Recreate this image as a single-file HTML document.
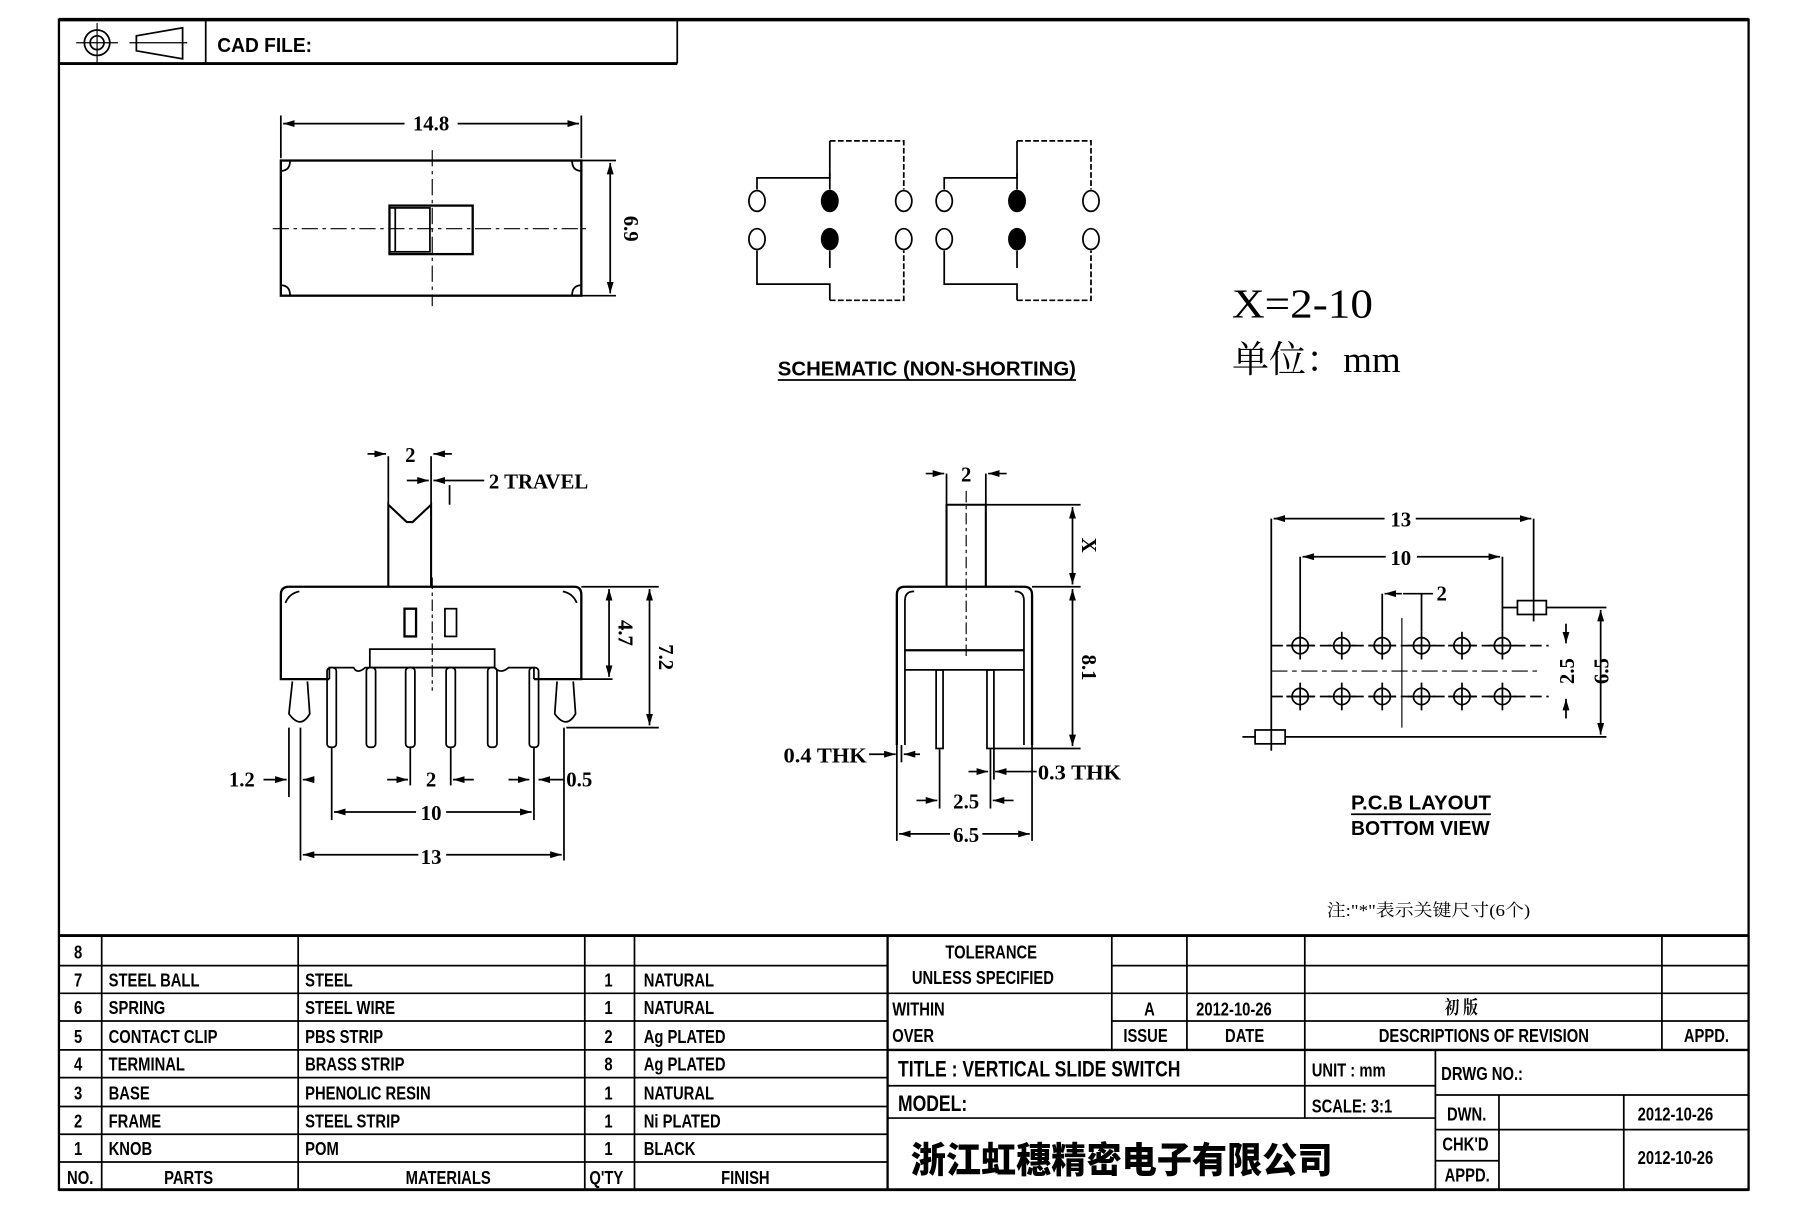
<!DOCTYPE html>
<html><head><meta charset="utf-8"><style>
html,body{margin:0;padding:0;background:#fff;}
svg{display:block}
text{font-family:"Liberation Sans Narrow","Liberation Sans",sans-serif;font-weight:bold;fill:#000}
.s{font-family:"Liberation Serif",serif;font-weight:bold}
.t text{transform-box:fill-box;transform-origin:0 0;transform:scaleX(.8)}
.t text.c{transform-origin:50% 0}
</style></head><body>
<svg width="1811" height="1207" viewBox="0 0 1567 1045" preserveAspectRatio="none" xmlns="http://www.w3.org/2000/svg">
<defs>
<marker id="a" viewBox="0 0 10 6" refX="10" refY="3" markerWidth="10" markerHeight="6" orient="auto-start-reverse" markerUnits="userSpaceOnUse"><path d="M0,0L10,3L0,6z" fill="#000"/></marker>
</defs>
<rect width="1567" height="1045" fill="#fff"/>
<g stroke="#000" fill="none">
<rect x="51" y="17" width="1462" height="1013" stroke-width="2"/>
<line x1="51" y1="17" x2="1513" y2="17" stroke-width="3"/>
<line x1="51" y1="55" x2="586" y2="55" stroke-width="2.5"/>
<line x1="586" y1="17" x2="586" y2="55" stroke-width="1.5"/>
<line x1="178" y1="17" x2="178" y2="55" stroke-width="1.5"/>
<circle cx="84" cy="37" r="11" stroke-width="1.5"/><circle cx="84" cy="37" r="6" stroke-width="1.5"/>
<line x1="66" y1="37" x2="102" y2="37"/><line x1="84" y1="20" x2="84" y2="55"/>
<path d="M118,31 L158,24 L158,51 L118,44 Z" stroke-width="1.5"/>
<line x1="112" y1="37" x2="162" y2="37"/>
<g stroke-width="1.5">
<line x1="51" y1="810" x2="1513" y2="810" stroke-width="2.5"/>
<line x1="51" y1="836" x2="768" y2="836"/><line x1="51" y1="860" x2="768" y2="860"/>
<line x1="51" y1="884" x2="768" y2="884"/><line x1="51" y1="909" x2="768" y2="909"/>
<line x1="51" y1="933" x2="768" y2="933"/><line x1="51" y1="958" x2="768" y2="958"/>
<line x1="51" y1="982" x2="768" y2="982"/><line x1="51" y1="1006" x2="768" y2="1006"/>
<line x1="88" y1="810" x2="88" y2="1030"/><line x1="258" y1="810" x2="258" y2="1030"/>
<line x1="506" y1="810" x2="506" y2="1030"/><line x1="549" y1="810" x2="549" y2="1030"/>
<line x1="768" y1="810" x2="768" y2="1030" stroke-width="2"/>
<line x1="962" y1="810" x2="962" y2="909"/><line x1="1027" y1="810" x2="1027" y2="909"/>
<line x1="1129" y1="810" x2="1129" y2="968"/><line x1="1438" y1="810" x2="1438" y2="909"/>
<line x1="962" y1="836" x2="1513" y2="836"/><line x1="768" y1="860" x2="1513" y2="860"/>
<line x1="962" y1="884" x2="1513" y2="884"/>
<line x1="768" y1="909" x2="1513" y2="909" stroke-width="2"/>
<line x1="768" y1="940" x2="1242" y2="940"/><line x1="768" y1="968" x2="1242" y2="968"/>
<line x1="1242" y1="909" x2="1242" y2="1030"/>
<line x1="1242" y1="948" x2="1513" y2="948"/><line x1="1242" y1="978" x2="1513" y2="978"/>
<line x1="1242" y1="1005" x2="1297" y2="1005"/>
<line x1="1297" y1="948" x2="1297" y2="1030"/><line x1="1405" y1="948" x2="1405" y2="1030"/>
<line x1="51" y1="1030" x2="1513" y2="1030" stroke-width="2.5"/>
</g>

<g stroke-width="1.5">
<rect x="243" y="139" width="260" height="117" stroke-width="2"/>
<line x1="503" y1="139" x2="533" y2="139"/><line x1="503" y1="256" x2="533" y2="256"/>
<line x1="528" y1="141" x2="528" y2="254" marker-start="url(#a)" marker-end="url(#a)"/>
<line x1="243" y1="100" x2="243" y2="137"/><line x1="503" y1="100" x2="503" y2="137"/>
<line x1="245" y1="107" x2="350" y2="107" marker-start="url(#a)"/><line x1="396" y1="107" x2="501" y2="107" marker-end="url(#a)"/>
<rect x="337" y="178" width="72" height="42" stroke-width="2"/><rect x="337" y="180" width="35" height="38"/><line x1="342" y1="180" x2="342" y2="218"/>
<line x1="374" y1="130" x2="374" y2="265" stroke-dasharray="14,4,3,4" stroke-width="1"/>
<line x1="236" y1="198" x2="510" y2="198" stroke-dasharray="14,4,3,4" stroke-width="1"/>
<path d="M243,148 q8,0 8,-9 M503,148 q-8,0 -8,-9 M243,247 q8,0 8,9 M503,247 q-8,0 -8,9"/>
</g>

<g stroke-width="1.5">
<ellipse cx="655" cy="174" rx="7" ry="9"/><ellipse cx="718" cy="174" rx="7" ry="9" fill="#000"/><ellipse cx="782" cy="174" rx="7" ry="9"/>
<ellipse cx="655" cy="207" rx="7" ry="9"/><ellipse cx="718" cy="207" rx="7" ry="9" fill="#000"/><ellipse cx="782" cy="207" rx="7" ry="9"/>
<ellipse cx="817" cy="174" rx="7" ry="9"/><ellipse cx="880" cy="174" rx="7" ry="9" fill="#000"/><ellipse cx="944" cy="174" rx="7" ry="9"/>
<ellipse cx="817" cy="207" rx="7" ry="9"/><ellipse cx="880" cy="207" rx="7" ry="9" fill="#000"/><ellipse cx="944" cy="207" rx="7" ry="9"/>
<g id="sc">
<path d="M655,164 V154 H718 V122"/><path d="M718,122 H782 V164" stroke-dasharray="5,2"/>
<line x1="718" y1="150" x2="718" y2="164"/>
<path d="M655,217 V246 H718 V260"/><path d="M718,260 H782 V217" stroke-dasharray="5,2"/>
<line x1="718" y1="232" x2="718" y2="217"/>
</g>
<use href="#sc" transform="translate(162,0)"/>
</g>

<g stroke-width="1.5">
<path d="M336,508 V437 L352,452 L357,452 L373,437 V508" stroke-width="1.8"/>
<line x1="336" y1="395" x2="336" y2="437"/><line x1="373" y1="395" x2="373" y2="437"/>
<line x1="318" y1="393" x2="334" y2="393" marker-end="url(#a)"/><line x1="391" y1="393" x2="375" y2="393" marker-end="url(#a)"/>
<line x1="389" y1="420" x2="389" y2="437"/>
<line x1="352" y1="416" x2="371" y2="416" marker-end="url(#a)"/><line x1="419" y1="416" x2="375" y2="416" marker-end="url(#a)"/>
<path d="M250,508 H497 Q503,508 503,515 V588 H462" stroke-width="2"/>
<path d="M250,508 Q243,508 243,515 V588 H285" stroke-width="2"/>
<path d="M247,522 q3,-8 12,-10 M499,522 q-3,-8 -12,-10"/>
<rect x="350" y="527" width="10" height="24" stroke-width="2"/><rect x="385" y="527" width="10" height="24"/>
<rect x="320" y="562" width="108" height="16"/>
<path d="M285,588 V578 H306 q3,6 10,0 H428 q5,6 12,0 H462 V588"/>
<g>
<rect x="283" y="578" width="8" height="69" rx="3"/><rect x="317" y="578" width="8" height="69" rx="3"/>
<rect x="351" y="578" width="8" height="69" rx="3"/><rect x="386" y="578" width="8" height="69" rx="3"/>
<rect x="422" y="578" width="8" height="69" rx="3"/><rect x="458" y="578" width="8" height="69" rx="3"/>
</g>
<path d="M253,590 L250,618 Q260,632 268,618 L266,590"/>
<path d="M482,590 L480,618 Q490,632 498,618 L496,590"/>
<line x1="374" y1="500" x2="374" y2="598" stroke-dasharray="10,3,3,3" stroke-width="1"/>
<line x1="503" y1="508" x2="570" y2="508"/><line x1="503" y1="588" x2="530" y2="588"/><line x1="490" y1="630" x2="570" y2="630"/>
<line x1="527" y1="510" x2="527" y2="586" marker-start="url(#a)" marker-end="url(#a)"/>
<line x1="562" y1="510" x2="562" y2="628" marker-start="url(#a)" marker-end="url(#a)"/>
<line x1="250" y1="630" x2="250" y2="690"/><line x1="260" y1="630" x2="260" y2="745"/>
<line x1="287" y1="647" x2="287" y2="710"/><line x1="462" y1="647" x2="462" y2="710"/>
<line x1="355" y1="647" x2="355" y2="680"/><line x1="390" y1="647" x2="390" y2="680"/>
<line x1="488" y1="630" x2="488" y2="745"/>
<line x1="228" y1="675" x2="248" y2="675" marker-end="url(#a)"/><line x1="272" y1="675" x2="262" y2="675" marker-end="url(#a)"/>
<line x1="335" y1="675" x2="353" y2="675" marker-end="url(#a)"/><line x1="410" y1="675" x2="392" y2="675" marker-end="url(#a)"/>
<line x1="440" y1="675" x2="458" y2="675" marker-end="url(#a)"/><line x1="488" y1="675" x2="466" y2="675" marker-end="url(#a)"/>
<line x1="289" y1="703" x2="360" y2="703" marker-start="url(#a)"/><line x1="386" y1="703" x2="460" y2="703" marker-end="url(#a)"/>
<line x1="262" y1="740" x2="362" y2="740" marker-start="url(#a)"/><line x1="386" y1="740" x2="486" y2="740" marker-end="url(#a)"/>
</g>

<g stroke-width="1.5">
<path d="M819,508 V437 H853 V508" stroke-width="1.8"/>
<line x1="836" y1="425" x2="836" y2="570" stroke-dasharray="10,3,3,3" stroke-width="1"/>
<line x1="819" y1="410" x2="819" y2="437"/><line x1="853" y1="410" x2="853" y2="437"/>
<line x1="801" y1="410" x2="817" y2="410" marker-end="url(#a)"/><line x1="871" y1="410" x2="855" y2="410" marker-end="url(#a)"/>
<path d="M776,645 V515 Q776,508 783,508 H886 Q893,508 893,515 V645" stroke-width="2"/>
<path d="M783,645 V520 q0,-8 8,-8 M886,645 V520 q0,-8 -8,-8"/>
<line x1="783" y1="563" x2="886" y2="563" stroke-width="2"/><line x1="783" y1="580" x2="886" y2="580"/>
<rect x="810" y="580" width="6" height="68"/><rect x="854" y="580" width="6" height="68"/>
<line x1="853" y1="437" x2="935" y2="437"/><line x1="893" y1="508" x2="935" y2="508"/><line x1="860" y1="648" x2="935" y2="648"/>
<line x1="928" y1="439" x2="928" y2="506" marker-start="url(#a)" marker-end="url(#a)"/>
<line x1="928" y1="510" x2="928" y2="646" marker-start="url(#a)" marker-end="url(#a)"/>
<line x1="776" y1="645" x2="776" y2="728"/><line x1="893" y1="645" x2="893" y2="728"/>
<line x1="813" y1="648" x2="813" y2="700"/><line x1="857" y1="648" x2="857" y2="700"/><line x1="780" y1="645" x2="780" y2="660"/><line x1="860" y1="648" x2="860" y2="675"/>
<line x1="752" y1="653" x2="775" y2="653" marker-end="url(#a)"/><line x1="796" y1="653" x2="782" y2="653" marker-end="url(#a)"/>
<line x1="838" y1="668" x2="855" y2="668" marker-end="url(#a)"/><line x1="897" y1="668" x2="861" y2="668" marker-end="url(#a)"/>
<line x1="793" y1="693" x2="811" y2="693" marker-end="url(#a)"/><line x1="877" y1="693" x2="859" y2="693" marker-end="url(#a)"/>
<line x1="778" y1="722" x2="822" y2="722" marker-start="url(#a)"/><line x1="850" y1="722" x2="891" y2="722" marker-end="url(#a)"/>
</g>

<g stroke-width="1.5">
<g id="h"><circle cx="1125" cy="559" r="7"/><line x1="1125" y1="547" x2="1125" y2="571"/><line x1="1113" y1="559" x2="1137" y2="559"/></g>
<use href="#h" x="36"/><use href="#h" x="71"/><use href="#h" x="105"/><use href="#h" x="140"/><use href="#h" x="175"/>
<use href="#h" y="44"/><use href="#h" x="36" y="44"/><use href="#h" x="71" y="44"/><use href="#h" x="105" y="44"/><use href="#h" x="140" y="44"/><use href="#h" x="175" y="44"/>
<line x1="1100" y1="559" x2="1340" y2="559" stroke-dasharray="10,4"/>
<line x1="1100" y1="603" x2="1340" y2="603" stroke-dasharray="10,4"/>
<line x1="1100" y1="581" x2="1330" y2="581" stroke-dasharray="14,4,4,4" stroke-width="1"/>
<line x1="1213" y1="535" x2="1213" y2="630" stroke-width="1"/>
<line x1="1125" y1="482" x2="1125" y2="547"/><line x1="1300" y1="482" x2="1300" y2="547"/>
<line x1="1196" y1="514" x2="1196" y2="547"/><line x1="1230" y1="514" x2="1230" y2="547"/>
<line x1="1100" y1="449" x2="1100" y2="650"/><line x1="1327" y1="449" x2="1327" y2="538"/>
<rect x="1313" y="520" width="25" height="12"/><rect x="1086" y="632" width="26" height="12"/>
<line x1="1300" y1="526" x2="1313" y2="526"/><line x1="1338" y1="526" x2="1390" y2="526"/>
<line x1="1112" y1="638" x2="1390" y2="638"/><line x1="1075" y1="638" x2="1086" y2="638"/>
<line x1="1102" y1="449" x2="1198" y2="449" marker-start="url(#a)"/><line x1="1225" y1="449" x2="1325" y2="449" marker-end="url(#a)"/>
<line x1="1127" y1="482" x2="1199" y2="482" marker-start="url(#a)"/><line x1="1226" y1="482" x2="1298" y2="482" marker-end="url(#a)"/>
<line x1="1198" y1="514" x2="1213" y2="514" marker-start="url(#a)"/><line x1="1214" y1="514" x2="1240" y2="514"/>
<line x1="1355" y1="540" x2="1355" y2="557" marker-end="url(#a)"/><line x1="1355" y1="622" x2="1355" y2="605" marker-end="url(#a)"/>
<line x1="1385" y1="528" x2="1385" y2="636" marker-start="url(#a)" marker-end="url(#a)"/>
</g>
</g>

<text x="188" y="45" font-size="18" textLength="82" lengthAdjust="spacingAndGlyphs">CAD FILE:</text>
<g>
<text class="s" x="373" y="113" font-size="18" text-anchor="middle">14.8</text>
<text class="s" x="540" y="198" font-size="18" text-anchor="middle" transform="rotate(90 540 198)">6.9</text>
<text class="s" x="355" y="400" font-size="18" text-anchor="middle">2</text>
<text class="s" x="423" y="423" font-size="18" textLength="86" lengthAdjust="spacingAndGlyphs">2 TRAVEL</text>
<text class="s" x="535" y="548" font-size="18" text-anchor="middle" transform="rotate(90 535 548)">4.7</text>
<text class="s" x="570" y="569" font-size="18" text-anchor="middle" transform="rotate(90 570 569)">7.2</text>
<text class="s" x="198" y="681" font-size="18">1.2</text>
<text class="s" x="373" y="681" font-size="18" text-anchor="middle">2</text>
<text class="s" x="490" y="681" font-size="18">0.5</text>
<text class="s" x="373" y="710" font-size="18" text-anchor="middle">10</text>
<text class="s" x="373" y="748" font-size="18" text-anchor="middle">13</text>
<text class="s" x="836" y="417" font-size="18" text-anchor="middle">2</text>
<text class="s" x="936" y="472" font-size="18" text-anchor="middle" transform="rotate(90 936 472)">X</text>
<text class="s" x="936" y="578" font-size="18" text-anchor="middle" transform="rotate(90 936 578)">8.1</text>
<text class="s" x="678" y="660" font-size="18" textLength="72" lengthAdjust="spacingAndGlyphs">0.4 THK</text>
<text class="s" x="898" y="675" font-size="18" textLength="72" lengthAdjust="spacingAndGlyphs">0.3 THK</text>
<text class="s" x="836" y="700" font-size="18" text-anchor="middle">2.5</text>
<text class="s" x="836" y="729" font-size="18" text-anchor="middle">6.5</text>
<text class="s" x="1212" y="456" font-size="18" text-anchor="middle">13</text>
<text class="s" x="1212" y="489" font-size="18" text-anchor="middle">10</text>
<text class="s" x="1243" y="520" font-size="18">2</text>
<text class="s" x="1362" y="581" font-size="18" text-anchor="middle" transform="rotate(-90 1362 581)">2.5</text>
<text class="s" x="1392" y="581" font-size="18" text-anchor="middle" transform="rotate(-90 1392 581)">6.5</text>
</g>
<text x="673" y="325" font-size="18" textLength="258" lengthAdjust="spacingAndGlyphs">SCHEMATIC (NON-SHORTING)</text>
<line x1="673" y1="329" x2="931" y2="329" stroke="#000" stroke-width="1.5"/>
<text x="1169" y="701" font-size="18" textLength="121" lengthAdjust="spacingAndGlyphs">P.C.B LAYOUT</text>
<line x1="1169" y1="705" x2="1290" y2="705" stroke="#000" stroke-width="1.5"/>
<text x="1169" y="723" font-size="18" textLength="120" lengthAdjust="spacingAndGlyphs">BOTTOM VIEW</text>
<text x="1066" y="275" font-size="36" style="font-family:'Liberation Serif',serif;font-weight:normal" textLength="122" lengthAdjust="spacingAndGlyphs">X=2-10</text>
<text x="1066" y="322" font-size="32" style="font-family:'Liberation Serif','Noto Serif CJK SC',serif;font-weight:normal" textLength="146" lengthAdjust="spacingAndGlyphs">单位：mm</text>
<text x="1148" y="793" font-size="15" style="font-family:'Liberation Serif','Noto Serif CJK SC',serif;font-weight:normal" textLength="176" lengthAdjust="spacingAndGlyphs">注:"*"表示关键尺寸(6个)</text>

<g font-size="16" class="t">
<text x="64" y="830">8</text>
<text x="64" y="854">7</text><text x="94" y="854">STEEL BALL</text><text x="264" y="854">STEEL</text><text x="523" y="854">1</text><text x="557" y="854">NATURAL</text>
<text x="64" y="878">6</text><text x="94" y="878">SPRING</text><text x="264" y="878">STEEL WIRE</text><text x="523" y="878">1</text><text x="557" y="878">NATURAL</text>
<text x="64" y="903">5</text><text x="94" y="903">CONTACT CLIP</text><text x="264" y="903">PBS STRIP</text><text x="523" y="903">2</text><text x="557" y="903">Ag PLATED</text>
<text x="64" y="927">4</text><text x="94" y="927">TERMINAL</text><text x="264" y="927">BRASS STRIP</text><text x="523" y="927">8</text><text x="557" y="927">Ag PLATED</text>
<text x="64" y="952">3</text><text x="94" y="952">BASE</text><text x="264" y="952">PHENOLIC RESIN</text><text x="523" y="952">1</text><text x="557" y="952">NATURAL</text>
<text x="64" y="976">2</text><text x="94" y="976">FRAME</text><text x="264" y="976">STEEL STRIP</text><text x="523" y="976">1</text><text x="557" y="976">Ni PLATED</text>
<text x="64" y="1000">1</text><text x="94" y="1000">KNOB</text><text x="264" y="1000">POM</text><text x="523" y="1000">1</text><text x="557" y="1000">BLACK</text>
<text x="58" y="1025">NO.</text><text x="142" y="1025">PARTS</text><text x="351" y="1025">MATERIALS</text><text x="510" y="1025">Q'TY</text><text x="624" y="1025">FINISH</text>
<text x="818" y="830">TOLERANCE</text><text x="789" y="852">UNLESS  SPECIFIED</text>
<text x="772" y="879">WITHIN</text><text x="772" y="902">OVER</text>
<text x="990" y="879">A</text><text x="1035" y="879">2012-10-26</text>
<text x="1250" y="878" style="font-family:'Liberation Serif','Noto Serif CJK SC',serif">初  版</text>
<text x="972" y="902">ISSUE</text><text x="1060" y="902">DATE</text><text x="1193" y="902">DESCRIPTIONS OF REVISION</text><text x="1457" y="902">APPD.</text>
<text x="777" y="932" font-size="19">TITLE :  VERTICAL  SLIDE  SWITCH</text>
<text x="1135" y="932">UNIT :  mm</text><text x="1247" y="935">DRWG NO.:</text>
<text x="777" y="962" font-size="19">MODEL:</text><text x="1135" y="963">SCALE:  3:1</text>
<text x="1252" y="970">DWN.</text><text x="1417" y="970">2012-10-26</text>
<text x="1248" y="996">CHK'D</text><text x="1417" y="1008">2012-10-26</text>
<text x="1250" y="1023">APPD.</text>
</g>
<text x="788" y="1015" font-size="31" style="font-family:'Noto Sans CJK SC',sans-serif;font-weight:900" textLength="365" lengthAdjust="spacingAndGlyphs">浙江虹穗精密电子有限公司</text>
</svg>
</body></html>
